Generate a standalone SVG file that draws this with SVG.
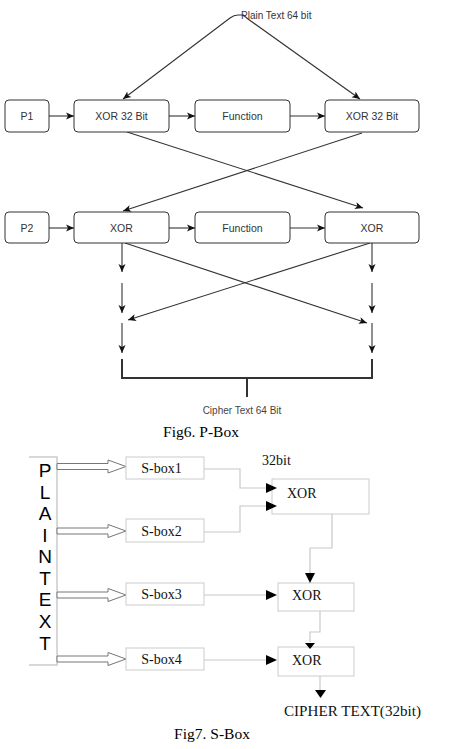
<svg xmlns="http://www.w3.org/2000/svg" width="460" height="749" viewBox="0 0 460 749">
<defs>
<style>
.pb{fill:#fff;stroke:#333;stroke-width:1}
.pt{font-family:"Liberation Sans",Arial,sans-serif;font-size:10.5px;fill:#333;text-anchor:middle}
.pl{fill:none;stroke:#333;stroke-width:1.1}
.br{fill:none;stroke:#333;stroke-width:2}
.sb{fill:#fff;stroke:#ccc;stroke-width:1}
.st{font-family:"Liberation Serif","Times New Roman",serif;font-size:14px;fill:#111}
.sl{fill:none;stroke:#c8c8c8;stroke-width:1.2}
.ah{fill:#000}
.ha{fill:#fff;stroke:#777;stroke-width:1}
.cap{font-family:"Liberation Serif","Times New Roman",serif;font-size:15.5px;fill:#000}
.pv{font-family:"Liberation Sans",Arial,sans-serif;font-size:19px;fill:#000;text-anchor:middle}
</style>
<marker id="a" viewBox="0 0 8 8" refX="8" refY="4" markerWidth="8" markerHeight="8" markerUnits="userSpaceOnUse" orient="auto">
<path d="M0,0.5 L8,4 L0,7.5 L2,4 Z" fill="#111"/>
</marker>
</defs>
<rect width="460" height="749" fill="#fff"/>

<g id="connectors">
<path class="pl" d="M244,15 L238,15 Q234,15 230,18 L123,99" marker-end="url(#a)"/>
<path class="pl" d="M242,15 Q245,16 248,19 L360,99" marker-end="url(#a)"/>
<path class="pl" d="M49,116 L74,116" marker-end="url(#a)"/>
<path class="pl" d="M169,116 L195,116" marker-end="url(#a)"/>
<path class="pl" d="M290,116 L325,116" marker-end="url(#a)"/>
<path class="pl" d="M127,132 L363,208" marker-end="url(#a)"/>
<path class="pl" d="M362,133 L123,211" marker-end="url(#a)"/>
<path class="pl" d="M49,228 L74,228" marker-end="url(#a)"/>
<path class="pl" d="M169,228 L195,228" marker-end="url(#a)"/>
<path class="pl" d="M290,228 L325,228" marker-end="url(#a)"/>
<path class="pl" d="M122,243 L122,272" marker-end="url(#a)"/>
<path class="pl" d="M372,243 L372,272" marker-end="url(#a)"/>
<path class="pl" d="M125,243 L367,323" marker-end="url(#a)"/>
<path class="pl" d="M370,243 L128,320" marker-end="url(#a)"/>
<path class="pl" d="M122,283 L122,313" marker-end="url(#a)"/>
<path class="pl" d="M372,283 L372,313" marker-end="url(#a)"/>
<path class="pl" d="M122,323 L122,353" marker-end="url(#a)"/>
<path class="pl" d="M372,323 L372,353" marker-end="url(#a)"/>
<path class="br" d="M122,359 V378 H372 V359 M247,378 V397"/>

<path class="sl" d="M204,469 H240 V488 H268"/>
<path class="sl" d="M204,532 H240 V506 H268"/>
<path class="sl" d="M204,595 H268"/>
<path class="sl" d="M204,660 H268"/>
<path class="sl" d="M332,514 V548 H310 V574"/>
<path class="sl" d="M320,611 V632 H310 V642"/>
<path class="sl" d="M320,676 V690"/>
</g>

<g id="plain-text-64"><text x="241" y="19" font-family="Liberation Sans,Arial,sans-serif" font-size="10px" fill="#333">Plain Text 64 bit</text></g>
<g id="p1"><rect class="pb" x="5" y="100" width="44" height="32" rx="4"/><text class="pt" x="27" y="120">P1</text></g>
<g id="xor1a"><rect class="pb" x="74" y="100" width="95" height="32" rx="4"/><text class="pt" x="121.5" y="120">XOR 32 Bit</text></g>
<g id="func1"><rect class="pb" x="195" y="100" width="95" height="32" rx="4"/><text class="pt" x="242.5" y="120">Function</text></g>
<g id="xor1b"><rect class="pb" x="325" y="100" width="94" height="32" rx="4"/><text class="pt" x="372" y="120">XOR 32 Bit</text></g>
<g id="p2"><rect class="pb" x="5" y="212" width="44" height="31" rx="4"/><text class="pt" x="27" y="231.5">P2</text></g>
<g id="xor2a"><rect class="pb" x="74" y="212" width="95" height="31" rx="4"/><text class="pt" x="121.5" y="231.5">XOR</text></g>
<g id="func2"><rect class="pb" x="195" y="212" width="95" height="31" rx="4"/><text class="pt" x="242.5" y="231.5">Function</text></g>
<g id="xor2b"><rect class="pb" x="325" y="212" width="94" height="31" rx="4"/><text class="pt" x="372" y="231.5">XOR</text></g>
<g id="cipher64"><text x="242" y="414" font-family="Liberation Sans,Arial,sans-serif" font-size="10px" fill="#444" text-anchor="middle">Cipher Text 64 Bit</text></g>
<g id="fig6"><text class="cap" x="201" y="437" text-anchor="middle">Fig6. P-Box</text></g>

<g id="plaintext">
<path d="M29,457 H57 V665 H29" fill="none" stroke="#ccc" stroke-width="1.5"/>
<text class="pv" x="45" y="477">P</text>
<text class="pv" x="45" y="499">L</text>
<text class="pv" x="45" y="520">A</text>
<text class="pv" x="45" y="542">I</text>
<text class="pv" x="45" y="563">N</text>
<text class="pv" x="45" y="585">T</text>
<text class="pv" x="45" y="606">E</text>
<text class="pv" x="45" y="628">X</text>
<text class="pv" x="45" y="650">T</text>
</g>
<g id="in-arrows">
<path class="ha" d="M57,463.5 H108 V460 L126,466.5 L108,473 V469.5 H57 Z"/>
<path class="ha" d="M57,528 H108 V524.5 L126,531 L108,537.5 V534 H57 Z"/>
<path class="ha" d="M57,592 H108 V588.5 L126,595 L108,601.5 V598 H57 Z"/>
<path class="ha" d="M57,656 H108 V652.5 L126,659 L108,665.5 V662 H57 Z"/>
</g>
<g id="sbox1"><rect class="sb" x="126" y="457" width="78" height="22"/><text class="st" x="161.5" y="473" text-anchor="middle">S-box1</text></g>
<g id="sbox2"><rect class="sb" x="126" y="519" width="78" height="23"/><text class="st" x="161.5" y="535.5" text-anchor="middle">S-box2</text></g>
<g id="sbox3"><rect class="sb" x="126" y="583" width="78" height="22"/><text class="st" x="161.5" y="599" text-anchor="middle">S-box3</text></g>
<g id="sbox4"><rect class="sb" x="126" y="648" width="78" height="22"/><text class="st" x="161.5" y="664" text-anchor="middle">S-box4</text></g>
<g id="label32"><text class="st" x="262" y="465">32bit</text></g>
<g id="xorA"><rect class="sb" x="272" y="479" width="97" height="35"/><text class="st" x="287" y="498">XOR</text></g>
<g id="xorB"><rect class="sb" x="278" y="583" width="76" height="28"/><text class="st" x="292" y="600">XOR</text></g>
<g id="xorC"><rect class="sb" x="278" y="647" width="76" height="29"/><text class="st" x="292" y="665">XOR</text></g>
<g id="s-arrowheads">
<path class="ah" d="M266,483 L277,488 L266,493 Z"/>
<path class="ah" d="M266,501 L277,506 L266,511 Z"/>
<path class="ah" d="M266,590 L277,595 L266,600 Z"/>
<path class="ah" d="M266,655 L277,660 L266,665 Z"/>
<path class="ah" d="M305,573 L315,573 L310,583 Z"/>
<path class="ah" d="M305,643 L315,643 L310,649 Z"/>
<path class="ah" d="M315,690 L326,690 L320.5,698 Z"/>
</g>
<g id="cipher32"><text class="st" x="284" y="716" font-size="15" textLength="137" lengthAdjust="spacingAndGlyphs">CIPHER TEXT(32bit)</text></g>
<g id="fig7"><text class="cap" x="212" y="739" text-anchor="middle">Fig7. S-Box</text></g>
</svg>
